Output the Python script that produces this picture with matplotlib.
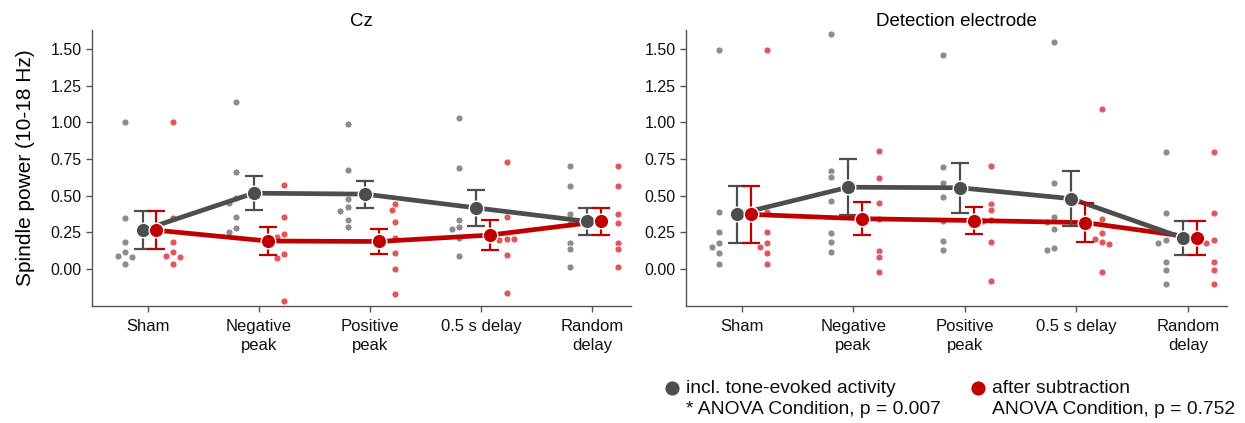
import numpy as np
import matplotlib
matplotlib.use("Agg")
import matplotlib.pyplot as plt
from matplotlib.lines import Line2D

plt.rcParams['font.family'] = ['Liberation Sans', 'DejaVu Sans']

conditions = ["Sham", "Negative\npeak", "Positive\npeak", "0.5 s delay", "Random\ndelay"]
panel_titles = ["Cz", "Detection electrode"]
ylabel = "Spindle power (10-18 Hz)"
yticks = [0.0, 0.25, 0.5, 0.75, 1.0, 1.25, 1.5]
legend_labels = [("incl. tone-evoked activity", "* ANOVA Condition, p = 0.007"),
                 ("after subtraction", "ANOVA Condition, p = 0.752")]

# Cz: per-subject values (7 per condition)
cz_incl = [
    [1.00, 0.345, 0.186, 0.114, 0.090, 0.082, 0.036],
    [1.139, 0.664, 0.482, 0.452, 0.352, 0.282, 0.250],
    [0.989, 0.675, 0.480, 0.420, 0.393, 0.334, 0.286],
    [1.032, 0.691, 0.336, 0.286, 0.270, 0.214, 0.091],
    [0.702, 0.566, 0.373, 0.307, 0.177, 0.134, 0.014],
]
cz_sub = [
    [1.00, 0.345, 0.186, 0.114, 0.090, 0.082, 0.036],
    [0.570, 0.352, 0.236, 0.216, 0.105, 0.077, -0.218],
    [0.443, 0.402, 0.323, 0.209, 0.111, 0.000, -0.173],
    [0.732, 0.355, 0.202, 0.195, 0.205, 0.093, -0.161],
    [0.702, 0.566, 0.373, 0.311, 0.177, 0.134, 0.014],
]
# Detection electrode
det_incl = [
    [1.493, 0.389, 0.250, 0.180, 0.150, 0.109, 0.036],
    [1.600, 0.670, 0.627, 0.466, 0.243, 0.182, 0.118],
    [1.457, 0.695, 0.589, 0.489, 0.325, 0.193, 0.132],
    [1.550, 0.589, 0.352, 0.320, 0.273, 0.141, 0.132],
    [0.795, 0.380, 0.200, 0.175, 0.045, -0.007, -0.102],
]
det_sub = [
    [1.493, 0.389, 0.250, 0.180, 0.150, 0.109, 0.036],
    [0.802, 0.620, 0.450, 0.343, 0.125, 0.082, -0.020],
    [0.702, 0.443, 0.400, 0.335, 0.330, 0.186, -0.080],
    [1.089, 0.341, 0.243, 0.186, 0.207, 0.168, -0.018],
    [0.795, 0.380, 0.200, 0.175, 0.045, -0.007, -0.102],
]

GRAY = "#4d4d4d"
RED = "#c00000"
GRAY_DOT = "#8c8c8c"
RED_DOT = "#e0575c"
SPINE = "#555555"

W, H = 1245, 423
fig = plt.figure(figsize=(W / 100, H / 100), dpi=100)

axes_px = [(92, 631), (686, 1227)]
top_px, bot_px = 30, 306


def swarm(ax, xbase, ys, diam_px):
    """simple beeswarm offsets in data units"""
    placed = []
    xs = []
    for y in ys:
        py = ax.transData.transform((xbase, y))[1]
        best = None
        for k in range(0, 20):
            for sgn in ([0] if k == 0 else [-1, 1]):
                off_px = sgn * k * diam_px * 0.55
                ok = True
                for (qx, qy) in placed:
                    if (qx - off_px) ** 2 + (qy - py) ** 2 < (diam_px * 0.95) ** 2:
                        ok = False
                        break
                if ok:
                    best = off_px
                    break
            if best is not None:
                break
        placed.append((best, py))
        px0 = ax.transData.transform((xbase, y))[0]
        xs.append(ax.transData.inverted().transform((px0 + best, py))[0])
    return xs


for i, (incl, sub) in enumerate([(cz_incl, cz_sub), (det_incl, det_sub)]):
    x0, x1 = axes_px[i]
    ax = fig.add_axes([x0 / W, (H - bot_px) / H, (x1 - x0) / W, (bot_px - top_px) / H])
    ax.set_xlim(-0.5, 4.35)
    ax.set_ylim(-0.252, 1.63)
    for s in ["top", "right"]:
        ax.spines[s].set_visible(False)
    for s in ["left", "bottom"]:
        ax.spines[s].set_color(SPINE)
        ax.spines[s].set_linewidth(1.0)
    ax.tick_params(colors=SPINE, labelcolor="#111111", length=4, width=1)
    ax.tick_params(axis="x", pad=5.5)
    ax.set_xticks(range(len(conditions)))
    ax.set_xticklabels(conditions, fontsize=12, linespacing=1.3)
    ax.set_yticks(yticks)
    ax.set_yticklabels([f"{v:.2f}" for v in yticks], fontsize=11.5)
    ax.set_title(panel_titles[i], fontsize=13.5, pad=2)
    if i == 0:
        ax.set_ylabel(ylabel, fontsize=15, labelpad=11)

    xpos = np.arange(len(conditions))
    for data, dot_off, mean_off, dcol, mcol, lz in [
        (incl, -0.2, -0.045, GRAY_DOT, GRAY, 4),
        (sub, 0.23, 0.08, RED_DOT, RED, 3),
    ]:
        for c, vals in enumerate(data):
            xs = swarm(ax, c + dot_off, vals, 6.5)
            ax.scatter(xs, vals, s=26, color=dcol, edgecolor="white",
                       linewidth=0.6, zorder=2)
        arr = np.array(data)
        means = arr.mean(axis=1)
        sems = arr.std(axis=1, ddof=1) / np.sqrt(arr.shape[1])
        ax.plot(xpos + mean_off, means, color=mcol, lw=3.4, zorder=lz,
                solid_capstyle="butt")
        ax.errorbar(xpos + mean_off, means, yerr=sems, fmt="none", ecolor=mcol,
                    elinewidth=1.6, capsize=6.5, capthick=1.6, zorder=5)
        ax.plot(xpos + mean_off, means, "o", color=mcol, ms=10.5,
                mec="white", mew=1.0, zorder=6)

# legend drawn manually below right panel
for (l1, l2), col, mx, tx in [(legend_labels[0], GRAY, 672, 686),
                              (legend_labels[1], RED, 978, 992)]:
    fig.add_artist(Line2D([mx / W], [1 - 388 / H], marker="o", color=col,
                          ms=11, mec="white", mew=0.8, transform=fig.transFigure))
    fig.text(tx / W, 1 - 388 / H, l1, fontsize=13.9, va="center", ha="left",
             color="#111111")
    fig.text(tx / W, 1 - 409 / H, l2, fontsize=13.9, va="center", ha="left",
             color="#111111")

fig.savefig("out.png", dpi=100)
